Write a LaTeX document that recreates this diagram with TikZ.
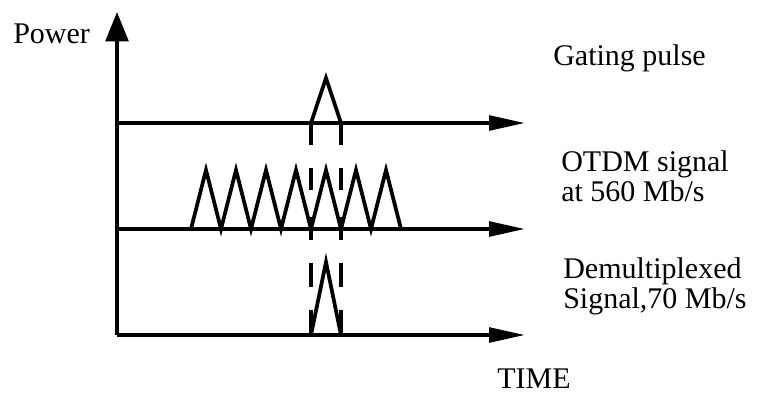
\documentclass[tikz,border=0pt]{standalone}
\usepackage{fontspec}
\setmainfont{Liberation Serif}
\usetikzlibrary{arrows.meta}
\begin{document}
\begin{tikzpicture}[x=0.75pt,y=-0.75pt,
  trace/.style={line width=2.8pt,line join=miter},
  haxis/.style={line width=2.8pt,-{Triangle[length=27pt,width=11pt]}},
  vaxis/.style={line width=2.8pt,-{Triangle[length=22pt,width=17pt]}},
  tick/.style={line width=2.8pt},
  lbl/.style={anchor=base west,inner sep=0pt,align=left,
    font=\fontsize{22.5}{22}\selectfont}]
\useasboundingbox (0,0) rectangle (761,394);
% axes origin points
\coordinate (O) at (117,335);
\coordinate (Ytop) at (117,12);
\coordinate (A1) at (117,123);
\coordinate (A1e) at (525,123);
\coordinate (A2) at (117,229);
\coordinate (A2e) at (525,229);
\coordinate (A3e) at (525,335);
\draw[vaxis] (O) -- (Ytop);
\draw[haxis] (A1) -- (A1e);
\draw[haxis] (A2) -- (A2e);
\draw[haxis] (O) -- (A3e);
% gating pulse
\draw[trace] (311,123) -- (326,78) -- (341,123);
\draw[tick] (311,123) -- (311,145);
\draw[tick] (341,123) -- (341,145);
% OTDM signal
\draw[trace] (191,229)
  \foreach \k in {0,...,6} { -- ({206+30*\k},170) -- ({221+30*\k},229) };
\draw[tick] (311,168) -- (311,190);
\draw[tick] (341,168) -- (341,190);
\draw[tick] (311,217) -- (311,240);
\draw[tick] (341,217) -- (341,240);
% demultiplexed
\draw[tick] (311,263) -- (311,287);
\draw[tick] (341,263) -- (341,287);
\draw[trace] (311,335) -- (326,262) -- (341,335);
\draw[tick] (311,310) -- (311,335);
\draw[tick] (341,310) -- (341,335);
% labels
\node[lbl] (power) at (13,43) {Power};
\node[lbl] (gate) at (553,65) {Gating pulse};
\node[lbl] (otdm) at (561,201) {OTDM signal\\at 560 Mb/s};
\node[lbl] (demux) at (563,308) {Demultiplexed\\Signal,70 Mb/s};
\node[lbl] (time) at (497,388) {TIME};
\end{tikzpicture}
\end{document}
